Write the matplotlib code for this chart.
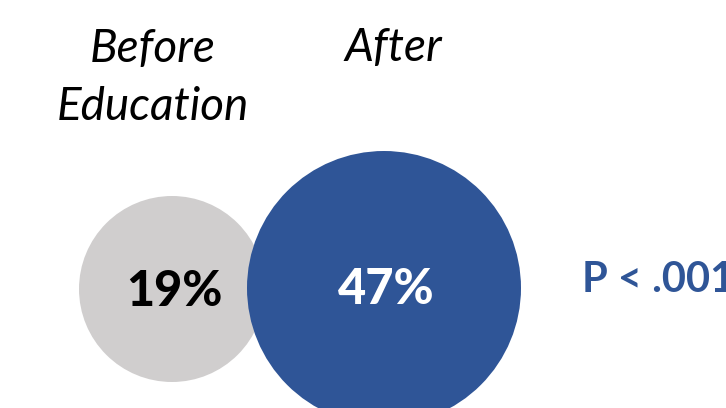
import matplotlib
matplotlib.use("Agg")
import matplotlib.pyplot as plt
from matplotlib.patches import Circle

# ── Data ──────────────────────────────────────────────────────────────────────
groups = ["Before\nEducation", "After"]
percent = [19, 47]
p_text = "P < .001"

# ── Layout (pixel coords, y down) ─────────────────────────────────────────────
centers = [(172, 289), (384, 288)]
radii = [93, 137]
fills = ["#D0CECE", "#2F5597"]
value_colors = ["black", "white"]
label_pos = [(153, 78), (393, 48)]

FONT = "Lato"

fig = plt.figure(figsize=(7.26, 4.08), dpi=100)
ax = fig.add_axes([0, 0, 1, 1])
ax.set_xlim(0, 726)
ax.set_ylim(408, 0)
ax.set_aspect("equal")
ax.axis("off")

for (cx, cy), r, fc, tc, v in zip(centers, radii, fills, value_colors, percent):
    ax.add_patch(Circle((cx, cy), r, facecolor=fc, edgecolor="none"))
    ax.text(cx + 2, cy + 2, f"{v}%", ha="center", va="center", fontsize=35,
            fontweight="black", color=tc, family=FONT)

for (x, y), g in zip(label_pos, groups):
    ax.text(x, y, g, ha="center", va="center", fontsize=33, style="italic",
            family=FONT, linespacing=1.45)

ax.text(582, 280, p_text, ha="left", va="center", fontsize=30,
        fontweight="bold", color="#2F5597", family=FONT)

plt.savefig("out.png", dpi=100)
plt.close()
